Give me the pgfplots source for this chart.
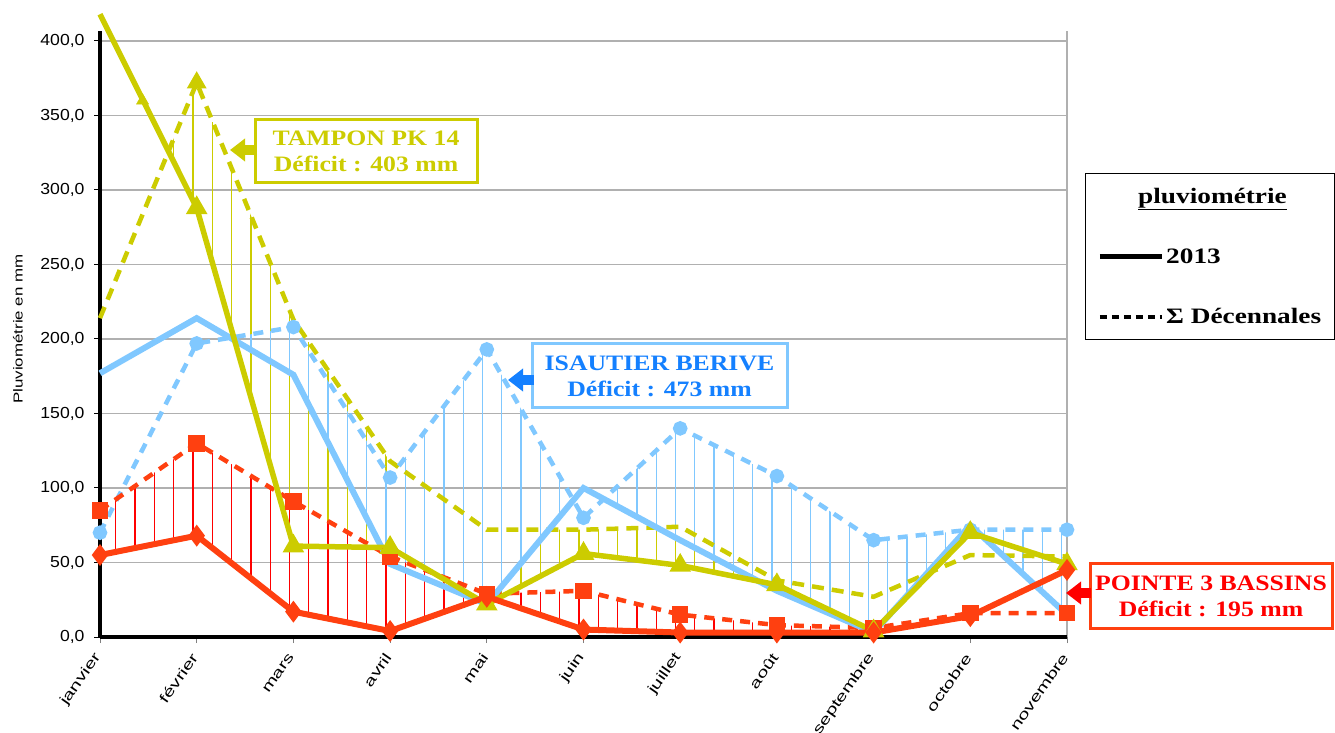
\documentclass[border=0pt]{standalone}
\usepackage{pgfplots}
\pgfplotsset{compat=1.18}
\usepgfplotslibrary{fillbetween}
\usetikzlibrary{patterns.meta,arrows.meta}
\usepackage{fontspec}
\setmainfont{Liberation Serif}
\newfontfamily\lblfont[FakeStretch=1.17]{Liberation Serif}
\newfontfamily\legfont[FakeStretch=1.24]{Liberation Serif}
\newfontfamily\tickfont[FakeStretch=1.1]{Liberation Sans}
\newfontfamily\xtickfont[FakeStretch=1.45]{Liberation Sans}
\newfontfamily\ylblfont[FakeStretch=1.3]{Liberation Sans}

\definecolor{tampon}{RGB}{204,204,0}
\definecolor{isau}{RGB}{128,200,255}
\definecolor{isautxt}{RGB}{20,128,255}
\definecolor{pointe}{RGB}{255,64,16}
\definecolor{gridgray}{RGB}{176,176,176}

% pluviométrie mensuelle (mm)
\pgfplotstableread{
x  TS   TD   IS   ID   PS  PD
0  418  214  177  70   55  85
1  288  372  214  197  68  130
2  61   213  176  208  17  91
3  60   118  49   107  4   54
4  22   72   22   193  27  29
5  56   72   100  80   5   31
6  48   74   65   140  3   15
7  35   38   31   108  3   8
8  4    27   3    65   3   6
9  70   55   75   72   14  16
10 49   54   15   72   45  16
}\pluvio

\begin{document}
\begin{tikzpicture}
\begin{axis}[
  at={(0,0)}, anchor=south west,
  scale only axis, width=967bp, height=606bp,
  xmin=0, xmax=10, ymin=0, ymax=406.7,
  clip=false,
  axis x line*=bottom, axis y line*=left,
  x axis line style={line width=3bp,-},
  y axis line style={line width=3bp,-},
  xtick={0,...,10},
  xticklabels={janvier,février,mars,avril,mai,juin,juillet,août,septembre,octobre,novembre},
  ytick={0,50,...,400},
  yticklabels={{0,0},{50,0},{100,0},{150,0},{200,0},{250,0},{300,0},{350,0},{400,0}},
  tick align=outside, major tick length=6bp,
  xtick style={draw=gray, line width=1bp},
  ytick style={draw=black, line width=1bp},
  ymajorgrids, major grid style={line width=1.5bp, color=gridgray},
  extra x ticks={10}, extra x tick labels={},
  extra x tick style={grid=major},
  yticklabel style={font=\tickfont\fontsize{16bp}{18bp}\selectfont, xshift=-6bp},
  xticklabel style={font=\xtickfont\fontsize{14bp}{16bp}\selectfont, yshift=-9bp, rotate=55, anchor=east},
  ylabel={Pluviométrie en mm},
  ylabel style={font=\ylblfont\fontsize{13bp}{15bp}\selectfont, at={(axis description cs:-0.0848,0.508)}, anchor=center},
  legend style={at={(1.0186,0.7657)}, anchor=north west, draw=black, line width=1.5bp,
    font=\legfont\bfseries\fontsize{22bp}{24bp}\selectfont,
    inner xsep=12bp, inner ysep=12bp, row sep=40bp},
  legend cell align=left,
  legend image code/.code={\draw[#1] (0bp,0bp) -- (62bp,0bp);},
]
\addlegendimage{empty legend}
\addlegendimage{black, line width=4.5bp}
\addlegendimage{black, line width=4.5bp, dash pattern=on 7bp off 5bp}
\legend{{\hspace*{-28bp}\underline{pluviométrie}},{2013},{Σ Décennales}}

% chemins pour les déficits
\addplot[draw=none, name path=TD, forget plot] table[x=x, y=TD] {\pluvio};
\addplot[draw=none, name path=TS, forget plot] table[x=x, y=TS] {\pluvio};
\addplot[draw=none, name path=ID, forget plot] table[x=x, y=ID] {\pluvio};
\addplot[draw=none, name path=IS, forget plot] table[x=x, y=IS] {\pluvio};
\addplot[draw=none, name path=PD, forget plot] table[x=x, y=PD] {\pluvio};
\addplot[draw=none, name path=PS, forget plot] table[x=x, y=PS] {\pluvio};

\addplot[draw=none, forget plot] fill between[of=TD and TS, split,
  every even segment/.style={draw=none, fill=none},
  every odd segment/.style={pattern={Lines[angle=90,distance=19.3bp,line width=1.3bp]}, pattern color=tampon}];
\addplot[draw=none, forget plot] fill between[of=ID and IS, split,
  every even segment/.style={draw=none, fill=none},
  every odd segment/.style={pattern={Lines[angle=90,distance=19.3bp,line width=1.3bp]}, pattern color=isau}];
\addplot[draw=none, forget plot] fill between[of=PD and PS, split,
  every segment no 0/.style={pattern={Lines[angle=90,distance=19.3bp,line width=1.3bp]}, pattern color=red},
  every segment no 1/.style={draw=none, fill=none}];

% décennales
\addplot[tampon, line width=4.5bp, dash pattern=on 12bp off 8bp,
  mark=triangle*, mark size=7bp, mark options={solid}, mark indices={2}]
  table[x=x, y=TD] {\pluvio};
\addplot[isau, line width=4.5bp, dash pattern=on 10bp off 8bp,
  mark=*, mark size=5bp, mark options={solid}]
  table[x=x, y=ID] {\pluvio};
\addplot[pointe, line width=4.5bp, dash pattern=on 10bp off 8bp,
  mark=square*, mark size=6bp, mark options={solid}]
  table[x=x, y=PD] {\pluvio};

% 2013
\addplot[isau, line width=6bp, mark=none] table[x=x, y=IS] {\pluvio};
\addplot[tampon, line width=5.5bp, mark=triangle*, mark size=7bp, mark indices={2,...,11}]
  table[x=x, y=TS] {\pluvio};
\addplot[tampon, only marks, mark=triangle*, mark size=7bp] coordinates {(0.44,360)};
\addplot[pointe, line width=6bp, mark=diamond*, mark size=6bp] table[x=x, y=PS] {\pluvio};
\end{axis}

\node[draw=tampon, line width=3bp, text=tampon, minimum width=222bp, minimum height=63bp,
  inner sep=0pt, align=center, font=\lblfont\bfseries\fontsize{22bp}{26bp}\selectfont]
  at (266bp,485.5bp) {TAMPON PK 14\\Déficit : 403 mm};
\draw[tampon, line width=10bp, -{Triangle[length=15bp,width=22bp]}] (157bp,487bp) -- (130bp,487bp);

\node[draw=isau, line width=3bp, text=isautxt, minimum width=255bp, minimum height=64bp,
  inner sep=0pt, align=center, font=\lblfont\bfseries\fontsize{22bp}{26bp}\selectfont]
  at (559.5bp,261bp) {ISAUTIER BERIVE\\Déficit : 473 mm};
\draw[isautxt, line width=10bp, -{Triangle[length=15bp,width=22bp]}] (434bp,257bp) -- (408bp,257bp);

\node[draw=pointe, line width=3bp, text=red, minimum width=242bp, minimum height=65bp,
  inner sep=0pt, align=center, font=\lblfont\bfseries\fontsize{22bp}{26bp}\selectfont]
  at (1111bp,40.5bp) {POINTE 3 BASSINS\\Déficit : 195 mm};
\draw[red, line width=10bp, -{Triangle[length=15bp,width=22bp]}] (991bp,44bp) -- (966bp,44bp);

\pgfresetboundingbox
\path[use as bounding box] (-100bp,-96bp) rectangle (1235bp,637bp);
\end{tikzpicture}
\end{document}
